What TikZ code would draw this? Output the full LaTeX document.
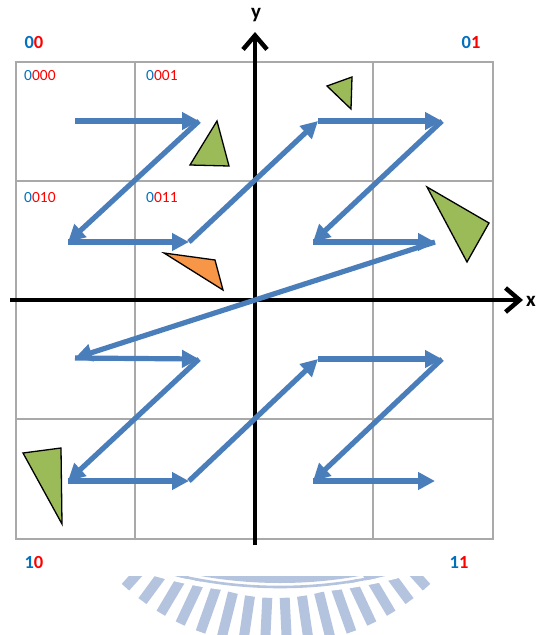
\documentclass[tikz,border=0pt]{standalone}
\usepackage{fontspec}
\setmainfont{Carlito}
\usetikzlibrary{arrows.meta,calc}
\definecolor{zblue}{HTML}{4A7EBB}
\definecolor{gridgray}{HTML}{A9A9A9}
\definecolor{lblue}{HTML}{0070C0}
\definecolor{lred}{HTML}{FF0000}
\definecolor{tgreen}{HTML}{9BBB59}
\definecolor{torange}{HTML}{F79646}
\definecolor{wmark}{RGB}{180,195,222}
\begin{document}
\begin{tikzpicture}[x=1pt,y=-1pt,
  gridline/.style={draw=gridgray,line width=1.8pt},
  axisline/.style={draw=black,line width=4.5pt,-{Straight Barb[length=14pt,width=24pt]}},
  zarrow/.style={draw=zblue,line width=5.2pt,-{Triangle[length=17pt,width=17pt]}},
  tri/.style={draw=black,line width=1.3pt,line join=miter},
  quadlbl/.style={font=\fontsize{18.5}{20}\selectfont\bfseries,inner sep=0pt},
  celllbl/.style={font=\fontsize{15.5}{17}\selectfont,inner sep=0pt,anchor=west},
  axislbl/.style={font=\fontsize{21}{23}\selectfont\bfseries,inner sep=0pt},
  tooth/.style={draw=wmark,line width=10pt}]
\useasboundingbox (0,0) rectangle (537,635);

% watermark
\begin{scope}
  \clip (100,576) rectangle (460,635);
  \coordinate (wb) at (280,135);
  \coordinate (wc) at (276,420);
  \fill[wmark] (wb) circle (448pt);
  \fill[white] (wb) circle (436pt);
  \foreach \a in {-42,-36.4,...,43} {
    \draw[tooth] ($(wc)+(90+\a:178)$) -- ($(wc)+(90+\a:225)$);
  }
  \draw[white,line width=5pt] (wb) circle (456pt);
  \draw[wmark,line width=2.6pt] (wb) circle (452pt);
\end{scope}

% grid
\draw[gridline] (16,62) rectangle (493,539);
\foreach \gx in {135,255,373} { \draw[gridline] (\gx,62) -- (\gx,539); }
\foreach \gy in {181,300,419} { \draw[gridline] (16,\gy) -- (493,\gy); }

% axes
\coordinate (xl) at (10,300);
\coordinate (xr) at (523,300);
\coordinate (yb) at (255,545);
\coordinate (yt) at (255,32);
\draw[axisline] (xl) -- (xr);
\draw[axisline] (yb) -- (yt);
\node[axislbl] (ylab) at (256,15) {y};
\node[axislbl] (xlab) at (531,301) {x};

% triangles
\draw[tri,fill=tgreen] (190,165) -- (217,121) -- (229,166) -- cycle;
\draw[tri,fill=tgreen] (327,86) -- (352,77) -- (351,109) -- cycle;
\draw[tri,fill=tgreen] (427,187) -- (489,223) -- (467,262) -- cycle;
\draw[tri,fill=torange] (164,253) -- (215,260) -- (223,290) -- cycle;
\draw[tri,fill=tgreen] (23,453) -- (61,448) -- (62,524) -- cycle;

% z-order path points
\coordinate (p1) at (75,121);
\coordinate (p2) at (199,121);
\coordinate (p3) at (68,242);
\coordinate (p4) at (189,242);
\coordinate (p5) at (318,121);
\coordinate (p6) at (442,121);
\coordinate (p7) at (313,242);
\coordinate (p8) at (435,242);
\coordinate (p9) at (75,358);
\coordinate (p10) at (199,359);
\coordinate (p11) at (68,481);
\coordinate (p12) at (189,481);
\coordinate (p13) at (318,359);
\coordinate (p14) at (442,359);
\coordinate (p15) at (313,481);
\coordinate (p16) at (435,481);
\draw[zarrow] (p1) -- (p2);
\draw[zarrow] (p2) -- (p3);
\draw[zarrow] (p3) -- (p4);
\draw[zarrow] (p4) -- (p5);
\draw[zarrow] (p5) -- (p6);
\draw[zarrow] (p6) -- (p7);
\draw[zarrow] (p7) -- (p8);
\draw[zarrow] (p8) -- (p9);
\draw[zarrow] (p9) -- (p10);
\draw[zarrow] (p10) -- (p11);
\draw[zarrow] (p11) -- (p12);
\draw[zarrow] (p12) -- (p13);
\draw[zarrow] (p13) -- (p14);
\draw[zarrow] (p14) -- (p15);
\draw[zarrow] (p15) -- (p16);

% quadrant labels
\node[quadlbl] (q00) at (34,42) {\textcolor{lblue}{0}\textcolor{lred}{0}};
\node[quadlbl] (q01) at (471,42) {\textcolor{lblue}{0}\textcolor{lred}{1}};
\node[quadlbl] (q10) at (34,562) {\textcolor{lblue}{1}\textcolor{lred}{0}};
\node[quadlbl] (q11) at (459,562) {\textcolor{lblue}{1}\textcolor{lred}{1}};

% cell labels
\node[celllbl] (c0000) at (24,76) {\textcolor{lblue}{0}\textcolor{lred}{000}};
\node[celllbl] (c0001) at (146,76) {\textcolor{lblue}{0}\textcolor{lred}{001}};
\node[celllbl] (c0010) at (24,198) {\textcolor{lblue}{0}\textcolor{lred}{010}};
\node[celllbl] (c0011) at (146,198) {\textcolor{lblue}{0}\textcolor{lred}{011}};
\end{tikzpicture}
\end{document}
